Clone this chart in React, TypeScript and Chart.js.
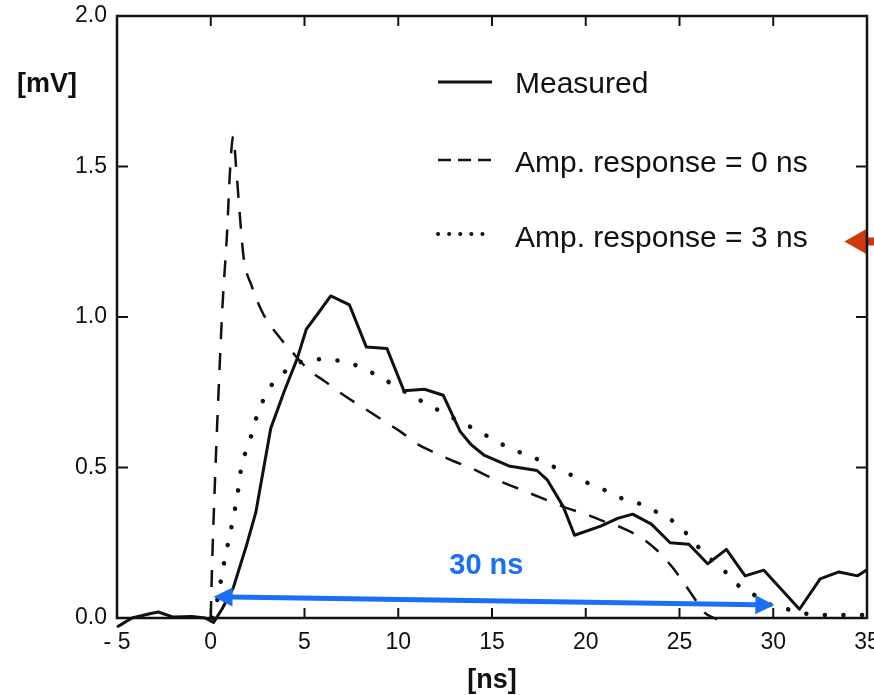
import React, { useEffect, useRef } from 'react';
import { Chart, registerables } from 'chart.js';

Chart.register(...registerables);

// ---- axis ticks ----
const xTickValues = [-5, 0, 5, 10, 15, 20, 25, 30, 35];
const yTickValues = [0, 0.5, 1.0, 1.5, 2.0];

// ---- series: Measured ----
const measuredNs = [-5, -4.2, -3.2, -2.8, -2, -1, -0.3, 0.15, 0.6, 1.2, 1.9, 2.4, 3.2, 3.9, 4.6, 5.1, 5.7, 6.4, 7.4, 8.3, 9.4, 10.3, 11.4, 12.4, 13.3, 13.9, 14.6, 15.9, 17.4, 17.96, 18.8, 19.4, 20.8, 21.7, 22.5, 23.5, 24.5, 25.5, 26.5, 27.5, 28.5, 29.5, 31.4, 32.5, 33.5, 34.5, 35];
const measuredMv = [-0.03, 0.0, 0.015, 0.02, 0.003, 0.005, 0.0, -0.015, 0.03, 0.1, 0.24, 0.35, 0.63, 0.75, 0.86, 0.96, 1.01, 1.07, 1.04, 0.9, 0.895, 0.755, 0.76, 0.74, 0.62, 0.575, 0.54, 0.505, 0.49, 0.458, 0.37, 0.275, 0.305, 0.331, 0.345, 0.312, 0.25, 0.245, 0.18, 0.228, 0.14, 0.159, 0.029, 0.13, 0.153, 0.14, 0.16];

// ---- series: Amp. response = 0 ns (dashed) ----
const resp0Ns = [0, 0.06, 0.24, 0.45, 0.62, 0.87, 1.04, 1.2, 1.35, 1.5, 1.6, 1.75, 2.2, 2.8, 3.7, 4.25, 5.3, 6.0, 7.1, 8.1, 9.1, 10.1, 11.1, 12.1, 13.0, 14.0, 15.0, 16.0, 17.0, 18.0, 19.0, 20.0, 21.0, 22.0, 23.0, 23.8, 24.6, 25.2, 25.8, 26.3, 27.0];
const resp0Mv = [0.0, 0.15, 0.48, 0.8, 1.03, 1.28, 1.5, 1.6, 1.5, 1.38, 1.3, 1.2, 1.1, 1.01, 0.93, 0.89, 0.82, 0.79, 0.74, 0.7, 0.66, 0.62, 0.575, 0.545, 0.52, 0.495, 0.465, 0.44, 0.415, 0.39, 0.365, 0.345, 0.32, 0.298, 0.265, 0.225, 0.17, 0.12, 0.065, 0.02, -0.005];

// ---- series: Amp. response = 3 ns (dotted) ----
const resp3Ns = [0.1, 0.35, 0.7, 1.16, 1.45, 1.65, 2.0, 2.4, 3.1, 3.8, 4.6, 5.6, 6.6, 7.6, 8.5, 9.4, 10.4, 11.4, 12.3, 13.3, 14.25, 15.2, 16.1, 17.1, 18.1, 19.05, 19.95, 20.9, 21.9, 22.9, 23.9, 24.8, 25.6, 26.4, 27.2, 28.0, 29.0, 29.9, 30.9, 31.7, 32.8, 34.0, 35.0];
const resp3Mv = [0.0, 0.06, 0.18, 0.32, 0.42, 0.51, 0.57, 0.66, 0.76, 0.81, 0.845, 0.86, 0.857, 0.843, 0.818, 0.787, 0.75, 0.715, 0.685, 0.652, 0.622, 0.588, 0.56, 0.536, 0.508, 0.48, 0.453, 0.428, 0.398, 0.379, 0.348, 0.315, 0.265, 0.209, 0.17, 0.115, 0.076, 0.043, 0.027, 0.015, 0.01, 0.01, 0.01];

// ---- texts ----
const legendLabels = ['Measured', 'Amp. response = 0 ns', 'Amp. response = 3 ns'];
const yUnitLabel = '[mV]';
const xUnitLabel = '[ns]';
const spanLabel = '30 ns';

// ---- annotation anchors (data units) ----
const spanStart = { x: 0.15, y: 0.071 };
const spanEnd = { x: 30.06, y: 0.043 };
const spanLabelAt = { x: 14.7, y: 0.173 };
const pointerTip = { x: 33.79, y: 1.251 };

const FONT = '"Liberation Sans", Arial, Helvetica, sans-serif';
const INK = '#111111';
const BLUE = '#1a6ff5';
const RED = '#cc3a0c';

const pairs = (xs: number[], ys: number[]) => xs.map((x, i) => ({ x, y: ys[i] }));

function arrowHead(ctx: CanvasRenderingContext2D, tx: number, ty: number, dx: number, dy: number, len: number, half: number) {
  const bx = tx - dx * len;
  const by = ty - dy * len;
  const nx = -dy;
  const ny = dx;
  ctx.beginPath();
  ctx.moveTo(tx, ty);
  ctx.lineTo(bx + nx * half, by + ny * half);
  ctx.lineTo(bx - nx * half, by - ny * half);
  ctx.closePath();
  ctx.fill();
}

const overlayPlugin = {
  id: 'overlay',
  afterDraw(chart: any) {
    const { ctx, chartArea: a, scales } = chart;
    const xs = scales.x;
    const ys = scales.y;
    ctx.save();

    // red pointer arrow (under frame)
    {
      const tx = xs.getPixelForValue(pointerTip.x);
      const ty = ys.getPixelForValue(pointerTip.y);
      ctx.fillStyle = RED;
      arrowHead(ctx, tx, ty, -1, 0, 22, 12.5);
      ctx.fillRect(tx + 21, ty - 4, chart.width - (tx + 21), 8);
    }

    // frame
    ctx.strokeStyle = INK;
    ctx.lineWidth = 2.5;
    ctx.strokeRect(a.left, a.top, a.right - a.left, a.bottom - a.top);

    // inward ticks
    ctx.lineWidth = 2;
    const seg = (x1: number, y1: number, x2: number, y2: number) => {
      ctx.beginPath();
      ctx.moveTo(x1, y1);
      ctx.lineTo(x2, y2);
      ctx.stroke();
    };
    for (const v of xTickValues) {
      const px = xs.getPixelForValue(v);
      if (px <= a.left + 2 || px >= a.right - 2) continue;
      seg(px, a.bottom, px, a.bottom - 10);
      seg(px, a.top, px, a.top + 10);
    }
    for (const v of yTickValues) {
      const py = ys.getPixelForValue(v);
      if (py <= a.top + 2 || py >= a.bottom - 2) continue;
      seg(a.left, py, a.left + 11, py);
      seg(a.right, py, a.right - 11, py);
    }

    // y unit label
    ctx.fillStyle = INK;
    ctx.font = `bold 27px ${FONT}`;
    ctx.textAlign = 'center';
    ctx.textBaseline = 'middle';
    ctx.fillText(yUnitLabel, 47, 85);

    // legend
    const lx0 = a.left + 321;
    const lx1 = a.left + 375;
    const tx = a.left + 398;
    const rows = [a.top + 69, a.top + 148, a.top + 223];
    const lineOffsets = [-3, -4, -5];
    const styles = [
      { dash: [] as number[], width: 3, cap: 'butt' },
      { dash: [13, 7], width: 2.5, cap: 'butt' },
      { dash: [0.1, 11], width: 4, cap: 'round' },
    ];
    rows.forEach((ry, i) => {
      const st = styles[i];
      ctx.save();
      ctx.strokeStyle = INK;
      ctx.lineWidth = st.width;
      ctx.lineCap = st.cap as CanvasLineCap;
      ctx.setLineDash(st.dash);
      seg(lx0, ry + lineOffsets[i], lx1, ry + lineOffsets[i]);
      ctx.restore();
      ctx.fillStyle = INK;
      ctx.font = `30px ${FONT}`;
      ctx.textAlign = 'left';
      ctx.textBaseline = 'middle';
      ctx.fillText(legendLabels[i], tx, ry);
    });

    // blue 30 ns double arrow
    {
      const x1 = xs.getPixelForValue(spanStart.x);
      const y1 = ys.getPixelForValue(spanStart.y);
      const x2 = xs.getPixelForValue(spanEnd.x);
      const y2 = ys.getPixelForValue(spanEnd.y);
      const L = Math.hypot(x2 - x1, y2 - y1);
      const dx = (x2 - x1) / L;
      const dy = (y2 - y1) / L;
      const head = 19;
      ctx.strokeStyle = BLUE;
      ctx.fillStyle = BLUE;
      ctx.lineWidth = 5;
      ctx.setLineDash([]);
      seg(x1 + dx * (head - 2), y1 + dy * (head - 2), x2 - dx * (head - 2), y2 - dy * (head - 2));
      arrowHead(ctx, x2, y2, dx, dy, head, 9.5);
      arrowHead(ctx, x1, y1, -dx, -dy, head, 9.5);
      ctx.font = `bold 29px ${FONT}`;
      ctx.textAlign = 'center';
      ctx.textBaseline = 'middle';
      ctx.fillText(spanLabel, xs.getPixelForValue(spanLabelAt.x), ys.getPixelForValue(spanLabelAt.y));
    }

    ctx.restore();
  },
};

export default function App() {
  const ref = useRef<HTMLCanvasElement>(null);

  useEffect(() => {
    if (!ref.current) return;
    Chart.defaults.font.family = FONT;
    const chart = new Chart(ref.current, {
      type: 'line',
      data: {
        datasets: [
          {
            label: legendLabels[0],
            data: pairs(measuredNs, measuredMv),
            borderColor: INK,
            borderWidth: 3,
            pointRadius: 0,
            tension: 0,
            borderJoinStyle: 'round',
            clip: 10,
          },
          {
            label: legendLabels[1],
            data: pairs(resp0Ns, resp0Mv),
            borderColor: INK,
            borderWidth: 2.5,
            borderDash: [17, 14],
            pointRadius: 0,
            cubicInterpolationMode: 'monotone',
            clip: 10,
          },
          {
            label: legendLabels[2],
            data: pairs(resp3Ns, resp3Mv),
            borderColor: INK,
            borderWidth: 4.5,
            borderDash: [0.1, 18.5],
            borderCapStyle: 'round',
            pointRadius: 0,
            cubicInterpolationMode: 'monotone',
            clip: 10,
          },
        ],
      } as any,
      options: {
        animation: false,
        responsive: false,
        events: [],
        layout: { padding: { top: 16, right: 7, left: 0, bottom: 0 } },
        plugins: { legend: { display: false }, tooltip: { enabled: false } },
        scales: {
          x: {
            type: 'linear',
            min: -5,
            max: 35,
            grid: { display: false, drawTicks: false },
            border: { display: false },
            ticks: {
              stepSize: 5,
              padding: 11,
              color: INK,
              font: { size: 23 },
              maxRotation: 0,
              autoSkip: false,
              callback: (v: any) => (Number(v) < 0 ? '- ' + Math.abs(Number(v)) : String(v)),
            },
            title: {
              display: true,
              text: xUnitLabel,
              color: INK,
              font: { size: 27, weight: 'bold', lineHeight: 1 },
              padding: { top: 0, bottom: 1 },
            },
            afterFit: (s: any) => {
              s.height = 77;
              s.paddingLeft = 0;
              s.paddingRight = 0;
            },
          },
          y: {
            type: 'linear',
            min: 0,
            max: 2,
            grid: { display: false, drawTicks: false },
            border: { display: false },
            ticks: {
              stepSize: 0.5,
              padding: 10,
              color: INK,
              font: { size: 23 },
              callback: (v: any) => Number(v).toFixed(1),
            },
            afterFit: (s: any) => {
              s.width = 117;
              s.paddingTop = 0;
              s.paddingBottom = 0;
            },
          },
        },
      } as any,
      plugins: [overlayPlugin],
    });
    return () => chart.destroy();
  }, []);

  return (
    <div style={{ position: 'absolute', left: 0, top: 0, width: 874, height: 695, background: '#fff' }}>
      <canvas ref={ref} width={874} height={695} style={{ display: 'block' }} />
    </div>
  );
}
